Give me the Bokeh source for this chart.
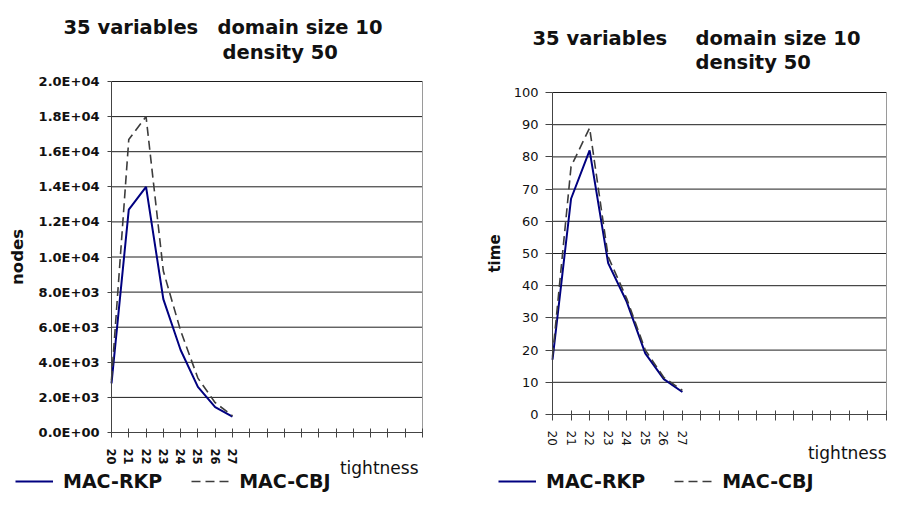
from bokeh.plotting import figure
from bokeh.models import Range1d, FixedTicker, Label, Legend, LegendItem
from bokeh.layouts import row
from bokeh.embed import file_html
from bokeh.resources import INLINE

# ---------------- data ----------------
tightness = [20, 21, 22, 23, 24, 25, 26, 27]
axis_slots = list(range(20, 39))          # category slots on the x axis (only 20..27 used)
nodes_rkp = [2800, 12700, 14000, 7600, 4700, 2600, 1450, 900]
nodes_cbj = [3000, 16700, 18000, 9200, 5800, 3100, 1700, 950]
time_rkp = [17, 67, 82, 47, 35, 19, 11, 7]
time_cbj = [18, 77, 89, 49, 36, 20, 11.5, 7.5]
series_names = ["MAC-RKP", "MAC-CBJ"]
nodes_ticks = list(range(0, 20001, 2000))
time_ticks = list(range(0, 101, 10))
title_part1 = "35 variables"
title_part2 = "domain size 10"
title_line2 = "density 50"
x_title = "tightness"
y_title_left = "nodes"
y_title_right = "time"

FONT = "DejaVu Sans"
RKP_COLOR = "#000080"
CBJ_COLOR = "#3c3c3c"
H = 492


def ranges(width, height, box, x0, x1, y0, y1):
    """Ranges so that the data box [x0,x1]x[y0,y1] fills the pixel box (l, t, r, b)."""
    l, t, r, b = box
    kx = (x1 - x0) / (r - l)
    ky = (y1 - y0) / (b - t)
    return (Range1d(x0 - l * kx, x1 + (width - r) * kx),
            Range1d(y0 - (height - b) * ky, y1 + t * ky))


def build(width, box, ymax, yticks, ylabels, ys1, ys2, bold, ytick_out, y_standoff,
          x_tick_out, x_standoff, ytitle, ytitle_size, ytitle_standoff, texts, legend_xy):
    xr, yr = ranges(width, H, box, axis_slots[0], axis_slots[-1], 0, ymax)
    p = figure(width=width, height=H, output_backend="svg", toolbar_location=None,
               x_range=xr, y_range=yr, min_border=0)
    p.background_fill_color = "white"
    p.border_fill_color = "white"
    p.outline_line_color = None
    p.xgrid.visible = False
    p.ygrid.visible = False

    # horizontal grid lines and right border of the plot area
    n = len(yticks)
    p.segment(x0=[axis_slots[0]] * n, y0=yticks, x1=[axis_slots[-1]] * n, y1=yticks,
              line_color="#1e1e1e", line_width=1)
    p.segment(x0=[axis_slots[-1]], y0=[0], x1=[axis_slots[-1]], y1=[ymax],
              line_color="#9a9a9a", line_width=1)

    xa = p.xaxis[0]
    xa.fixed_location = 0
    xa.bounds = (axis_slots[0], axis_slots[-1])
    xa.ticker = FixedTicker(ticks=axis_slots)
    xa.major_label_overrides = {s: (str(s) if s in tightness else "") for s in axis_slots}
    xa.major_label_orientation = "vertical"
    xa.major_tick_in = 4
    xa.major_tick_out = x_tick_out
    xa.minor_tick_line_color = None
    xa.major_label_standoff = x_standoff
    xa.major_label_text_font = FONT
    xa.major_label_text_font_size = "11.5px" if bold else "12px"
    xa.major_label_text_font_style = "bold" if bold else "normal"
    xa.major_label_text_color = "#111111"
    xa.axis_line_color = "#444444"
    xa.major_tick_line_color = "#444444"

    ya = p.yaxis[0]
    ya.fixed_location = axis_slots[0]
    ya.bounds = (0, ymax)
    ya.ticker = FixedTicker(ticks=yticks)
    ya.major_label_overrides = ylabels
    ya.major_tick_in = 0
    ya.major_tick_out = ytick_out
    ya.minor_tick_line_color = None
    ya.major_label_standoff = y_standoff
    ya.major_label_text_font = FONT
    ya.major_label_text_font_size = "13px"
    ya.major_label_text_font_style = "bold" if bold else "normal"
    ya.major_label_text_color = "#111111"
    ya.axis_line_color = "#444444"
    ya.major_tick_line_color = "#444444"
    ya.axis_label = ytitle
    ya.axis_label_text_font = FONT
    ya.axis_label_text_font_size = ytitle_size
    ya.axis_label_text_font_style = "bold"
    ya.axis_label_text_color = "#111111"
    ya.axis_label_standoff = ytitle_standoff

    r1 = p.line(tightness, ys1, line_color=RKP_COLOR, line_width=2)
    r2 = p.line(tightness, ys2, line_color=CBJ_COLOR, line_width=1.6, line_dash="9 5")

    for text, x, y, size, style, align in texts:
        p.add_layout(Label(x=x, y=H - y, x_units="screen", y_units="screen", text=text,
                           text_font=FONT, text_font_size=size, text_font_style=style,
                           text_align=align, text_baseline="alphabetic",
                           text_color="#111111"))

    leg = Legend(items=[LegendItem(label=series_names[0], renderers=[r1]),
                        LegendItem(label=series_names[1], renderers=[r2])],
                 orientation="horizontal", location=legend_xy,
                 glyph_width=38, glyph_height=22, label_height=22, label_standoff=10,
                 spacing=29, padding=0, margin=0,
                 background_fill_alpha=0, border_line_alpha=0,
                 label_text_font=FONT, label_text_font_size="19px",
                 label_text_font_style="bold", label_text_color="#111111")
    p.add_layout(leg)
    return p


nodes_labels = {t: format(t, ".1E") for t in nodes_ticks}
texts_left = [(title_part1, 63, 27, "19.5px", "bold", "left"),
              (title_part2, 217, 27, "19.5px", "bold", "left"),
              (title_line2, 222, 52, "19.5px", "bold", "left"),
              (x_title, 418, 467, "17px", "normal", "right")]
p1 = build(450, (111, 81, 422, 432), 20000, nodes_ticks, nodes_labels,
           nodes_rkp, nodes_cbj, True, 4, 8, 5, 11, y_title_left, "16.5px", 9,
           texts_left, (15, 0))

time_labels = {t: str(t) for t in time_ticks}
texts_right = [(title_part1, 82, 38, "19.5px", "bold", "left"),
               (title_part2, 245, 38, "19.5px", "bold", "left"),
               (title_line2, 245, 62, "19.5px", "bold", "left"),
               (x_title, 436, 452, "17px", "normal", "right")]
p2 = build(437, (102, 92, 436, 414), 100, time_ticks, time_labels,
           time_rkp, time_cbj, False, 7, 7, 6, 10, y_title_right, "15px", 7,
           texts_right, (48, 0))

layout = row(p1, p2)
open("out.html", "w").write(file_html(layout, INLINE))
